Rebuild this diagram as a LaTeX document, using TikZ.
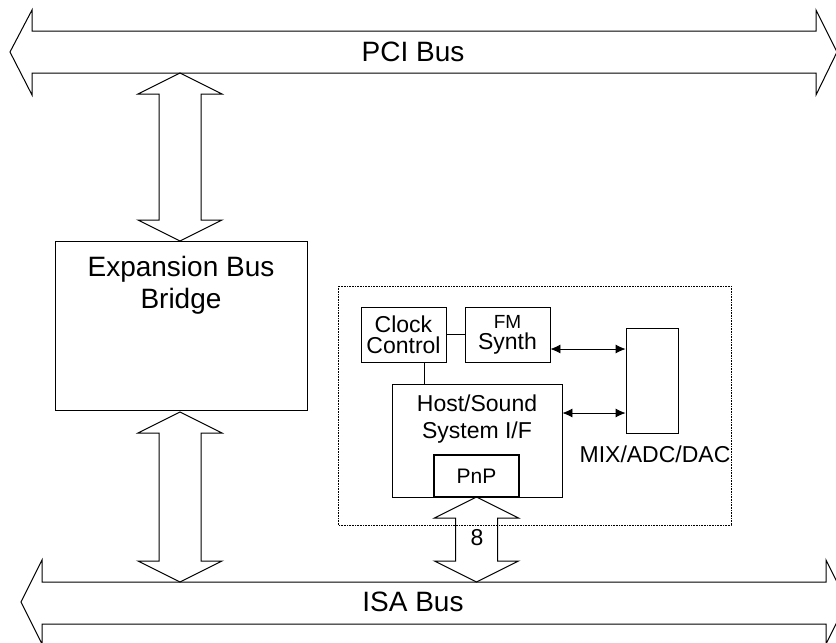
\documentclass[tikz,border=0pt]{standalone}
\usepackage{fontspec}
\setmainfont{Liberation Sans}
\usetikzlibrary{arrows.meta}
\tikzset{>={Latex[length=10pt,width=9pt]}}
\tikzset{
    blk/.style={draw, line width=0.8pt, inner sep=0pt},
    txt/.style={align=center, font=\fontsize{23}{21}\selectfont},
    bigtxt/.style={font=\fontsize{28}{32}\selectfont},
    bus/.style={line width=1pt, line join=miter},
}

\begin{document}
\begin{tikzpicture}[x=1pt, y=-1pt]
    \useasboundingbox (0,0) rectangle (836,643);
    \clip (0,0) rectangle (836,643);
    % buses
    \draw[bus](10,52)--(32,10)--(32,31)--(816,31)--(816,10)--(837,52)--(816,95)--(816,73)--(32,73)--(32,95)--cycle;
    \node[bigtxt] (pci) at (413,52) {PCI Bus};
    \draw[bus](21,602)--(42,560)--(42,582)--(826,582)--(826,560)--(847,602)--(826,644)--(826,624)--(42,624)--(42,644)--cycle;
    \node[bigtxt] (isa) at (413,602) {ISA Bus};
    % vertical double arrows
    \foreach \x/\ya/\yb in {180/73/241, 180/412/582, 476.5/497/582}
        \draw[bus](\x,\ya)--(\x+42,\ya+21)--(\x+21,\ya+21)--(\x+21,\yb-21)--(\x+42,\yb-21)--(\x,\yb)
            --(\x-42,\yb-21)--(\x-21,\yb-21)--(\x-21,\ya+21)--(\x-42,\ya+21)--cycle;
    \node[txt] (width) at (477,538) {8};
    % bridge
    \node[blk, minimum width=252pt, minimum height=169pt] (bridge) at (181,325.5) {};
    \node[align=center, bigtxt] (bridgetxt) at ([yshift=-45pt]bridge.north) {Expansion Bus\\Bridge};
    % sound card
    \draw[densely dotted, line width=0.6pt](338,286) rectangle (731,525);
    \node[blk, txt, minimum width=85pt, minimum height=55pt] (clock) at (403.5,334.5) {Clock\\Control};
    \node[blk, txt, minimum width=85pt, minimum height=55pt] (fm) at (507.5,334.5) {{\fontsize{19}{19}\selectfont FM}\\Synth};
    \node[blk, minimum width=170pt, minimum height=113pt] (host) at (477,440.5) {};
    \node[txt, font=\fontsize{23}{27}\selectfont] (hosttxt) at (477,419.5) {Host/Sound\\System I/F};
    \node[blk, line width=1.2pt, txt, font=\fontsize{21}{21}\selectfont, minimum width=85pt, minimum height=42pt] (pnp) at (476.5,476) {PnP};
    \node[blk, minimum width=52pt, minimum height=105pt] (mix) at (652,380.5) {};
    \node[txt] (mixtxt) at (655,454) {MIX/ADC/DAC};
    % connections
    \draw[line width=0.8pt](clock.east)--(fm.west);
    \draw[line width=0.8pt]([xshift=20.5pt]clock.south)--([xshift=20.5pt]clock.south |- host.north);
    \draw[line width=0.8pt, <->]([yshift=-14.5pt]fm.east)--([yshift=-14.5pt]fm.east -| mix.west);
    \draw[line width=0.8pt, <->]([yshift=27.5pt]host.east)--([yshift=27.5pt]host.east -| mix.west);
\end{tikzpicture}
\end{document}
